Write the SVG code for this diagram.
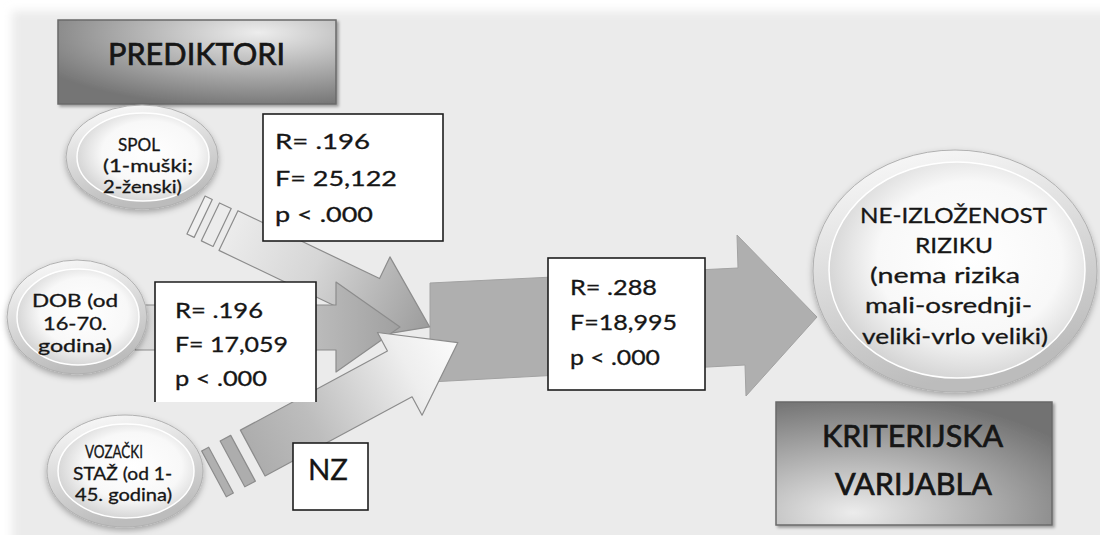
<svg xmlns="http://www.w3.org/2000/svg" width="1100" height="535" viewBox="0 0 1100 535">
<defs>
<style>
.t{font-family:Lato,"Open Sans","Liberation Sans",sans-serif;fill:#161616;stroke:#161616;stroke-width:0.3px}
.s{font-size:16.5px}
.n{font-size:21.5px}
.e{font-size:21px}
.h{font-size:31px;stroke-width:0.7px}
.box{fill:#fff;stroke:#1e1e1e;stroke-width:1.6}
.arr{stroke:#8c8c8c;stroke-width:1.2;stroke-linejoin:round}
.rim{fill:url(#gRim);stroke:#b0b0b0;stroke-width:1}
.inn{fill:url(#gInn);stroke:#ffffff;stroke-width:1.5}
.gb{stroke:#6a6a6a;stroke-width:1.5}
</style>
<filter id="bgblur" x="-5%" y="-5%" width="110%" height="110%"><feGaussianBlur stdDeviation="5"/></filter>
<filter id="sh" x="-20%" y="-20%" width="140%" height="150%"><feDropShadow dx="0" dy="3" stdDeviation="3" flood-color="#000" flood-opacity="0.3"/></filter>
<filter id="sh2" x="-10%" y="-10%" width="120%" height="130%"><feDropShadow dx="2" dy="2" stdDeviation="1.5" flood-color="#000" flood-opacity="0.35"/></filter>
<radialGradient id="gP" cx="0.72" cy="0.15" r="0.9"><stop offset="0" stop-color="#ededed"/><stop offset="1" stop-color="#747474"/></radialGradient>
<radialGradient id="gK" cx="0.28" cy="0.9" r="0.95"><stop offset="0" stop-color="#ececec"/><stop offset="1" stop-color="#727272"/></radialGradient>
<linearGradient id="gRim" x1="0" y1="0" x2="0.3" y2="1"><stop offset="0" stop-color="#fdfdfd"/><stop offset="1" stop-color="#bcbcbc"/></linearGradient>
<radialGradient id="gInn" cx="0.55" cy="0.45" r="0.6"><stop offset="0" stop-color="#ffffff"/><stop offset="0.6" stop-color="#f8f8f8"/><stop offset="1" stop-color="#cecece"/></radialGradient>
<linearGradient id="gS" gradientUnits="userSpaceOnUse" x1="0" y1="0" x2="259" y2="0"><stop offset="0" stop-color="#f4f4f4"/><stop offset="0.5" stop-color="#d6d6d6"/><stop offset="1" stop-color="#9c9c9c"/></linearGradient>
<linearGradient id="gD" gradientUnits="userSpaceOnUse" x1="135" y1="0" x2="400" y2="0"><stop offset="0" stop-color="#dcdcdc"/><stop offset="0.6" stop-color="#c2c2c2"/><stop offset="1" stop-color="#a0a0a0"/></linearGradient>
<linearGradient id="gV" gradientUnits="userSpaceOnUse" x1="-4" y1="0" x2="272" y2="0"><stop offset="0" stop-color="#a2a2a2"/><stop offset="0.4" stop-color="#bdbdbd"/><stop offset="0.8" stop-color="#eeeeee"/><stop offset="1" stop-color="#fbfbfb"/></linearGradient>
</defs>

<rect x="0" y="0" width="1100" height="535" fill="#ffffff"/>
<rect x="12" y="11" width="1110" height="540" fill="#ebebeb" filter="url(#bgblur)"/>

<g id="connectors">
  <polygon id="main-arrow" points="430,283 738,268 737,235 817,317 746,396 745,365 430,382" fill="#afafaf" stroke="#a2a2a2" stroke-width="1"/>
  <g id="arrow-spol" transform="translate(196,215) rotate(25.6)">
    <rect x="0" y="-21" width="8" height="42" fill="#f0f0f0" class="arr"/>
    <rect x="16" y="-21" width="13" height="42" fill="#ececec" class="arr"/>
    <polygon points="36,-22 193,-22 193,-46 259,0 193,46 193,22 36,22" fill="url(#gS)" class="arr"/>
  </g>
  <polygon id="arrow-dob" points="135,305 336,305 336,282 400,327 336,372 336,350 135,350" fill="url(#gD)" class="arr"/>
  <g id="arrow-vozacki" transform="translate(217.5,472) rotate(-28.3)">
    <rect x="-4" y="-26" width="8" height="52" fill="#b0b0b0" class="arr"/>
    <rect x="17" y="-26" width="12" height="52" fill="#adadad" class="arr"/>
    <polygon points="40,-26 207,-26 207,-47 273,0 207,47 207,26 40,26" fill="url(#gV)" class="arr"/>
  </g>
</g>

<g id="prediktori">
  <rect x="58" y="20" width="278" height="84" fill="url(#gP)" class="gb" filter="url(#sh2)"/>
  <text class="t h" x="108" y="65" font-size="30.5" textLength="177" lengthAdjust="spacingAndGlyphs">PREDIKTORI</text>
</g>

<g id="spol">
  <g filter="url(#sh)">
    <ellipse cx="142" cy="157" rx="76" ry="52" class="rim"/>
  </g>
  <ellipse cx="143" cy="157" rx="66" ry="44" class="inn"/>
  <text class="t s" x="118" y="151" textLength="42" lengthAdjust="spacingAndGlyphs">SPOL</text>
  <text class="t s" x="103" y="172" textLength="90" lengthAdjust="spacingAndGlyphs">(1-muški;</text>
  <text class="t s" x="103" y="193" textLength="79" lengthAdjust="spacingAndGlyphs">2-ženski)</text>
</g>

<g id="dob">
  <g filter="url(#sh)">
    <ellipse cx="77" cy="317" rx="70" ry="57" class="rim"/>
  </g>
  <ellipse cx="78" cy="317" rx="61" ry="48" class="inn"/>
  <text class="t s" x="32" y="307" textLength="86" lengthAdjust="spacingAndGlyphs">DOB (od</text>
  <text class="t s" x="43" y="330" textLength="64" lengthAdjust="spacingAndGlyphs">16-70.</text>
  <text class="t s" x="38" y="352" textLength="74" lengthAdjust="spacingAndGlyphs">godina)</text>
</g>

<g id="vozacki">
  <g filter="url(#sh)">
    <ellipse cx="125" cy="471" rx="78" ry="56" class="rim"/>
  </g>
  <ellipse cx="126" cy="471" rx="68" ry="47" class="inn"/>
  <text class="t s" x="85" y="458" textLength="58" lengthAdjust="spacingAndGlyphs">VOZAČKI</text>
  <text class="t s" x="73" y="480" textLength="99" lengthAdjust="spacingAndGlyphs">STAŽ (od 1-</text>
  <text class="t s" x="75" y="501" textLength="97" lengthAdjust="spacingAndGlyphs">45. godina)</text>
</g>

<g id="stat-spol">
  <rect x="263" y="114" width="180" height="127" class="box"/>
  <text class="t n" x="275" y="149" textLength="95" lengthAdjust="spacingAndGlyphs">R= .196</text>
  <text class="t n" x="275" y="186" textLength="122" lengthAdjust="spacingAndGlyphs">F= 25,122</text>
  <text class="t n" x="275" y="222" textLength="98" lengthAdjust="spacingAndGlyphs">p &lt; .000</text>
</g>

<g id="stat-dob">
  <rect x="155" y="282" width="161" height="120" fill="#fff"/>
  <path d="M155,402 V282 H316 V402" fill="none" stroke="#1e1e1e" stroke-width="1.6"/>
  <text class="t n" x="175" y="318" textLength="88" lengthAdjust="spacingAndGlyphs">R= .196</text>
  <text class="t n" x="175" y="352" textLength="113" lengthAdjust="spacingAndGlyphs">F= 17,059</text>
  <text class="t n" x="175" y="386" textLength="92" lengthAdjust="spacingAndGlyphs">p &lt; .000</text>
</g>

<g id="stat-nz">
  <rect x="293" y="443" width="75" height="67" class="box"/>
  <text class="t" x="308" y="480" font-size="28" textLength="40" lengthAdjust="spacingAndGlyphs">NZ</text>
</g>

<g id="stat-model">
  <rect x="548" y="258" width="157" height="132" class="box"/>
  <text class="t n" x="570" y="295" textLength="87" lengthAdjust="spacingAndGlyphs">R= .288</text>
  <text class="t n" x="570" y="330" textLength="107" lengthAdjust="spacingAndGlyphs">F=18,995</text>
  <text class="t n" x="570" y="365" textLength="90" lengthAdjust="spacingAndGlyphs">p &lt; .000</text>
</g>

<g id="kriterij">
  <g filter="url(#sh)">
    <ellipse cx="955" cy="271" rx="142" ry="121" class="rim"/>
  </g>
  <ellipse cx="957" cy="270" rx="128" ry="108" class="inn"/>
  <text class="t e" x="860" y="223" textLength="187" lengthAdjust="spacingAndGlyphs">NE-IZLOŽENOST</text>
  <text class="t e" x="915" y="253" textLength="78" lengthAdjust="spacingAndGlyphs">RIZIKU</text>
  <text class="t e" x="870" y="283" textLength="150" lengthAdjust="spacingAndGlyphs">(nema rizika</text>
  <text class="t e" x="865" y="313" textLength="167" lengthAdjust="spacingAndGlyphs">mali-osrednji-</text>
  <text class="t e" x="862" y="344" textLength="186" lengthAdjust="spacingAndGlyphs">veliki-vrlo veliki)</text>
</g>

<g id="kriterijska-varijabla">
  <rect x="776" y="402" width="276" height="123" fill="url(#gK)" class="gb" filter="url(#sh2)"/>
  <text class="t h" x="822" y="447" textLength="181" lengthAdjust="spacingAndGlyphs">KRITERIJSKA</text>
  <text class="t h" x="835" y="495" textLength="157" lengthAdjust="spacingAndGlyphs">VARIJABLA</text>
</g>
</svg>
